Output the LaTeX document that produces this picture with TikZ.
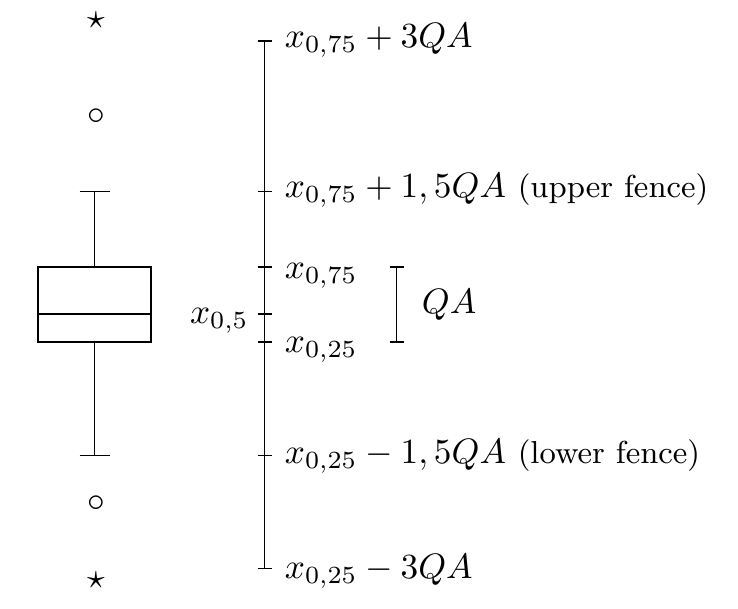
\documentclass[tikz,border=0pt]{standalone}
\begin{document}
\begin{tikzpicture}[x=0.2833pt,y=-0.2833pt,line width=0.55pt,
  lbl/.style={anchor=base west,inner sep=0pt},
  outlier/.style={inner sep=0pt}]
\useasboundingbox (0,0) rectangle (738,609);
% box plot
\node[outlier] (star1) at (96,20) {$\star$};
\node[outlier] (circ1) at (96,116.5) {$\circ$};
\node[outlier] (circ2) at (96,503.5) {$\circ$};
\node[outlier] (star2) at (96,580) {$\star$};
\coordinate (wt) at (94.5,191.5);
\coordinate (wb) at (94.5,455.5);
\draw (38,267) rectangle (151,342);
\draw (38,314) -- (151,314);
\draw (94.5,267) -- (wt);
\draw (94.5,342) -- (wb);
\draw (wt) ++(-15,0) -- ++(30,0);
\draw (wb) ++(-15,0) -- ++(30,0);
% scale
\coordinate (t1) at (264.5,41);
\coordinate (t2) at (264.5,191.5);
\coordinate (t3) at (264.5,267);
\coordinate (t4) at (264.5,314);
\coordinate (t5) at (264.5,342);
\coordinate (t6) at (264.5,455.5);
\coordinate (t7) at (264.5,568.5);
\draw (t1) -- (t7);
\foreach \t in {t1,t2,t3,t4,t5,t6,t7}
  \draw (\t) ++(-7,0) -- ++(14,0);
\node[lbl] (l1) at (284,47.3) {$x_{0,75}+3QA$};
\node[lbl] (l2) at (284,197.3) {$x_{0,75}+1,5QA$ {\small (upper fence)}};
\node[lbl] (l3) at (284,278.3) {$x_{0,75}$};
\node[lbl] (l5) at (284,352.3) {$x_{0,25}$};
\node[lbl] (l6) at (284,463.3) {$x_{0,25}-1,5QA$ {\small (lower fence)}};
\node[lbl] (l7) at (284,578.3) {$x_{0,25}-3QA$};
\node[anchor=base east,inner sep=0pt] (l4) at (249.5,323.5) {$x_{0,5}$};
% QA bracket
\coordinate (qa1) at (396.5,267);
\coordinate (qa2) at (396.5,342);
\draw (qa1) -- (qa2);
\draw (qa1) ++(-7,0) -- ++(14,0);
\draw (qa2) ++(-7,0) -- ++(14,0);
\node[lbl] (qa) at (421,313.3) {$QA$};
\end{tikzpicture}
\end{document}
